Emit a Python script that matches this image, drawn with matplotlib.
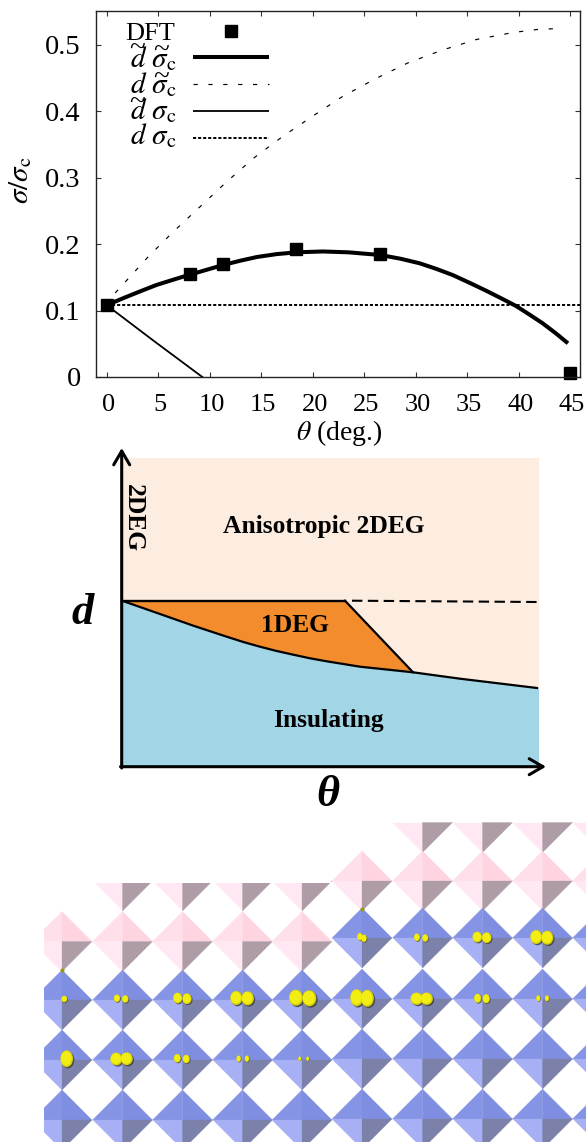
#!/usr/bin/env python3
import matplotlib
matplotlib.use('Agg')
import matplotlib.pyplot as plt
from matplotlib.patches import Ellipse, Rectangle
from matplotlib.transforms import ScaledTranslation

plt.rcParams['font.family'] = ['Liberation Serif', 'DejaVu Serif']
plt.rcParams['mathtext.fontset'] = 'stix'

W, H = 586, 1142
PX = 72 / 100  # one pixel in points

# top panel values
theta_dft = [0, 8.1, 11.3, 18.4, 26.55, 45]
sigma_dft = [0.108, 0.155, 0.170, 0.193, 0.185, 0.006]
theta_thick = [0, 1.6, 3.2, 4.85, 6.5, 8.1, 9.7, 11.3, 13, 14.6, 16.5, 18.4, 21, 23.5, 26.55,
               28.5, 30.4, 32, 33.6, 35.2, 36.85, 38.3, 39.76, 41, 42.35, 43.6, 44.8]
sigma_thick = [0.108, 0.1185, 0.1285, 0.1385, 0.1465, 0.154, 0.1612, 0.1684, 0.175, 0.1805, 0.1848, 0.1875, 0.1888,
               0.1875, 0.1835, 0.178, 0.171, 0.1627, 0.1534, 0.142, 0.1298, 0.1185, 0.1068, 0.0945, 0.0807, 0.066, 0.0507]
theta_dashed = [0, 0.8, 4.04, 6.47, 9.06, 11.66, 14.24, 17.15, 20.07, 22.98, 26.16, 29.3, 32.6, 35.94, 39.44, 41.77, 44.2]
sigma_dashed = [0.108, 0.126, 0.181, 0.2185, 0.256, 0.2937, 0.3288, 0.3624, 0.393, 0.4226, 0.449, 0.4727, 0.4917,
                0.5077, 0.518, 0.5226, 0.5244]
theta_solid = [0, 4.6, 9.29]
sigma_solid = [0.108, 0.054, 0.0]
theta_flat = [0, 46]
sigma_flat = [0.1087, 0.1087]
xticks = [0, 5, 10, 15, 20, 25, 30, 35, 40, 45]
yticks = [0, 0.1, 0.2, 0.3, 0.4, 0.5]
ytick_labels = ['0', '0.1', '0.2', '0.3', '0.4', '0.5']

# middle panel, in figure pixels
region_left, region_right, region_top, region_bottom = 122, 539, 458, 767
d_level = 600.7
boundary_x = [122, 160, 193.3, 226.7, 243.3, 260, 276.7, 293.3, 310, 326.7, 360, 413, 460, 537, 539]
boundary_y = [600.7, 614, 625.7, 636.7, 642, 646.7, 651, 654.7, 658.3, 661.3, 666.7, 672.3, 678.7, 688, 688]
corner_x = [345, 413]
corner_y = [600.7, 672.3]

# bottom panel, in figure pixels
left_cols = [62, 122.5, 182.5, 242.5, 302]
left_blue_rows = [1000, 1060, 1120]
left_pink_row = 941.5
left_half_cols = [122.5, 182.5, 242.5, 302]
left_half_row = 881
right_cols = [362, 422.5, 482.5, 542.5, 602.5]
right_blue_rows = [938, 999, 1059, 1119]
right_pink_row = 881
right_half_cols = [422.5, 482.5, 542.5, 602.5]
right_half_row = 822.5
blob_x = [64.3, 117, 125.3, 177.7, 187, 236.3, 247.7, 296, 309.3, 356.7, 367.3, 416.7, 426.7, 477.7, 486.3, 538.3, 547,
          360, 364, 417, 425.3, 477.3, 486.7, 536.3, 547.3,
          66.7, 116.3, 126.7, 177.3, 186.3, 238.7, 247, 299.7, 307.7]
blob_y = [999, 998.3, 999, 998, 998.7, 998, 998.3, 997.7, 998.3, 997.7, 998.3, 998.7, 998.7, 998.3, 998.7, 998.3, 998.3,
          936.7, 938.3, 937.3, 938, 937, 937.7, 937, 937.7,
          1058.7, 1059, 1058.7, 1058.3, 1059, 1058.7, 1058.7, 1058.7, 1058.7]
blob_rx = [3, 3.2, 3.2, 4.6, 4.6, 6, 6.2, 7, 7, 6.5, 6.5, 6.2, 6.2, 3.6, 3.6, 2, 2,
           2.8, 2.8, 3, 3, 4.8, 4.8, 6, 6,
           6.3, 6, 6, 3.5, 3.5, 2.2, 2.2, 1.4, 1.4]
blob_ry = [3.2, 3.8, 3.8, 5.4, 5.4, 7, 7, 8, 8, 8.5, 8.5, 6.2, 6.2, 4.6, 4.6, 3.1, 3.1,
           3.8, 3.8, 3.8, 3.8, 5.4, 5.4, 7, 7,
           8.4, 6.4, 6.4, 4.3, 4.3, 3.2, 3.2, 2.2, 2.2]
apex_x = [61.7, 361.7]
apex_y = [969.7, 909.3]

blue_facets = ['#8594e5', '#7f8ee0', '#a7b0f5', '#7c81aa']
pink_facets = ['#ffdfe9', '#ffd4e1', '#ffe8f3', '#ae9ca6']


def draw_diamond(ax, x, y, colors, half=30):
    ax.fill([x - half, x, x], [y, y - half, y], color=colors[0], lw=0.2)
    ax.fill([x, x + half, x], [y - half, y, y], color=colors[1], lw=0.2)
    draw_lower(ax, x, y, colors, half)


def draw_lower(ax, x, y, colors, half=30):
    ax.fill([x - half, x, x], [y, y, y + half], color=colors[2], lw=0.2)
    ax.fill([x, x + half, x], [y, y, y + half], color=colors[3], lw=0.2)


def draw_blob(ax, x, y, rx, ry):
    off = 0.14 * rx
    ax.add_patch(Ellipse((x + off * 1.5, y + off * 1.5), 2 * rx, 2 * ry, color='#3f3f38', alpha=0.8, lw=0, zorder=5))
    ax.add_patch(Ellipse((x, y), 2 * rx, 2 * ry, color='#d6d20a', lw=0, zorder=6))
    ax.add_patch(Ellipse((x - off * 0.5, y - off * 0.5), 1.7 * rx, 1.7 * ry, color='#f2ee14', lw=0, zorder=7))


fig = plt.figure(figsize=(W / 100, H / 100), dpi=100)

# top panel
ax = fig.add_axes([96 / W, 1 - 377 / H, (580.3 - 96) / W, (377 - 11.3) / H])
ax.plot(theta_dashed, sigma_dashed, color='k', lw=0.85, dashes=(3.6, 9))
ax.plot(theta_solid, sigma_solid, color='k', lw=1.3)
ax.plot(theta_flat, sigma_flat, color='k', lw=1.4, dashes=(1.6, 1.0))
ax.plot(theta_thick, sigma_thick, color='k', lw=2.9, solid_capstyle='butt', solid_joinstyle='round')
ax.plot(theta_dft, sigma_dft, ls='none', marker='s', color='k', ms=12 * PX, clip_on=False)
ax.set_xlim(-1.04, 46)
ax.set_ylim(0, 0.55)
ax.set_xticks(xticks)
ax.set_yticks(yticks)
ax.set_yticklabels(ytick_labels)
ax.tick_params(direction='in', top=True, right=True, length=5 * PX, width=0.8, color='#333333')
ax.tick_params(axis='x', pad=12, labelsize=19)
ax.tick_params(axis='y', pad=11, labelsize=20.5)
for t in ax.get_xticklabels():
    t.set_transform(t.get_transform() + ScaledTranslation(2 / 100, 0, fig.dpi_scale_trans))
for s in ax.spines.values():
    s.set_linewidth(1.0)
    s.set_color('#222222')

# overlay in figure pixels, for the legend and the axis words and the diagram
ov = fig.add_axes([0, 0, 1, 1], facecolor='none')
ov.set_xlim(0, W)
ov.set_ylim(H, 0)
ov.axis('off')

ov.text(339, 440, r'$\theta$ (deg.)', fontsize=20, ha='center', va='baseline')
ov.text(21, 180, r'$\sigma/\sigma_{\mathrm{c}}$', fontsize=21, rotation=90, ha='center', va='center')

legend_label = r'$d\ \sigma_{\mathrm{c}}$'
ov.text(175, 40, 'DFT', fontsize=19, ha='right', va='baseline')
ov.plot([231], [30.7], ls='none', marker='s', color='k', ms=12 * PX)
ov.text(176, 66.7, legend_label, fontsize=21, ha='right', va='baseline')
ov.plot([193, 269], [57.3, 57.3], color='k', lw=2.9, solid_capstyle='butt')
ov.text(176, 92.7, legend_label, fontsize=21, ha='right', va='baseline')
ov.plot([193, 269], [84.3, 84.3], color='k', lw=0.85, dashes=(3.6, 9))
ov.text(176, 119, legend_label, fontsize=21, ha='right', va='baseline')
ov.plot([193, 269], [111, 111], color='k', lw=1.3, solid_capstyle='butt')
ov.text(176, 144, legend_label, fontsize=21, ha='right', va='baseline')
ov.plot([193, 269], [137.7, 137.7], color='k', lw=1.4, dashes=(1.6, 1.0))
# the tildes of the first three rows, mathtext sets them too small
for tx, ty in [(137, 57), (161, 59), (161, 86), (137, 111)]:
    ov.text(tx, ty, '~', fontsize=21, ha='center', va='baseline')

# middle panel
ov.add_patch(Rectangle((region_left, region_top), region_right - region_left, region_bottom - region_top,
                       color='#fdede1', lw=0))
ov.fill(boundary_x + [region_right, region_left], boundary_y + [region_bottom, region_bottom], color='#a2d5e5', lw=0)
orange_x = [b for b in boundary_x if b <= corner_x[1]]
orange_y = boundary_y[:len(orange_x)]
ov.fill(orange_x + [corner_x[0]], orange_y + [corner_y[0]], color='#f28c2c', lw=0)
ov.plot(boundary_x[:-1], boundary_y[:-1], color='k', lw=1.6)
ov.plot([region_left, corner_x[0]], [d_level, d_level], color='k', lw=1.7)
ov.plot(corner_x, corner_y, color='k', lw=1.6)
ov.plot([352, 537], [600.7, 602], color='k', lw=1.5, dashes=(5, 2.6))

arrow = dict(arrowstyle='->,head_length=0.55,head_width=0.32', color='k', lw=2.2, shrinkA=0, shrinkB=0,
             mutation_scale=18)
ov.annotate('', xy=(121.7, 448), xytext=(121.7, 768), arrowprops=arrow)
ov.annotate('', xy=(546, 766.7), xytext=(120.5, 766.7), arrowprops=arrow)

bold = dict(fontsize=18.4, fontweight='bold', ha='center', va='center')
ov.text(324, 526, 'Anisotropic 2DEG', **bold)
ov.text(295, 625, '1DEG', **bold)
ov.text(328, 720, 'Insulating', **bold)
ov.text(133, 517.7, '2DEG', rotation=-90, **bold)
ov.text(83, 613, 'd', fontsize=32, fontweight='bold', style='italic', ha='center', va='center')
ov.text(328, 795, '\u03b8', fontsize=32, fontweight='bold', style='italic', ha='center', va='center')

# bottom panel, axes limits do the cropping of the rendering
oc = fig.add_axes([44 / W, 0, (W - 44) / W, 320 / H])
oc.set_xlim(44, W)
oc.set_ylim(H, 822)
oc.axis('off')

for c in left_half_cols:
    draw_lower(oc, c, left_half_row, pink_facets)
for c in right_half_cols:
    draw_lower(oc, c, right_half_row, pink_facets)
oc.add_patch(Rectangle((44, 822), 287, 61, color='white', lw=0, zorder=3))
for c in left_cols:
    draw_diamond(oc, c, left_pink_row, pink_facets)
    for r in left_blue_rows:
        draw_diamond(oc, c, r, blue_facets)
for c in right_cols:
    draw_diamond(oc, c, right_pink_row, pink_facets)
    for r in right_blue_rows:
        draw_diamond(oc, c, r, blue_facets)
for x, y, rx, ry in zip(blob_x, blob_y, blob_rx, blob_ry):
    draw_blob(oc, x, y, rx, ry)
oc.plot(apex_x, apex_y, ls='none', marker='o', ms=3, color='#9a9a10', mew=0, zorder=8)

fig.savefig('out.png', dpi=100)
